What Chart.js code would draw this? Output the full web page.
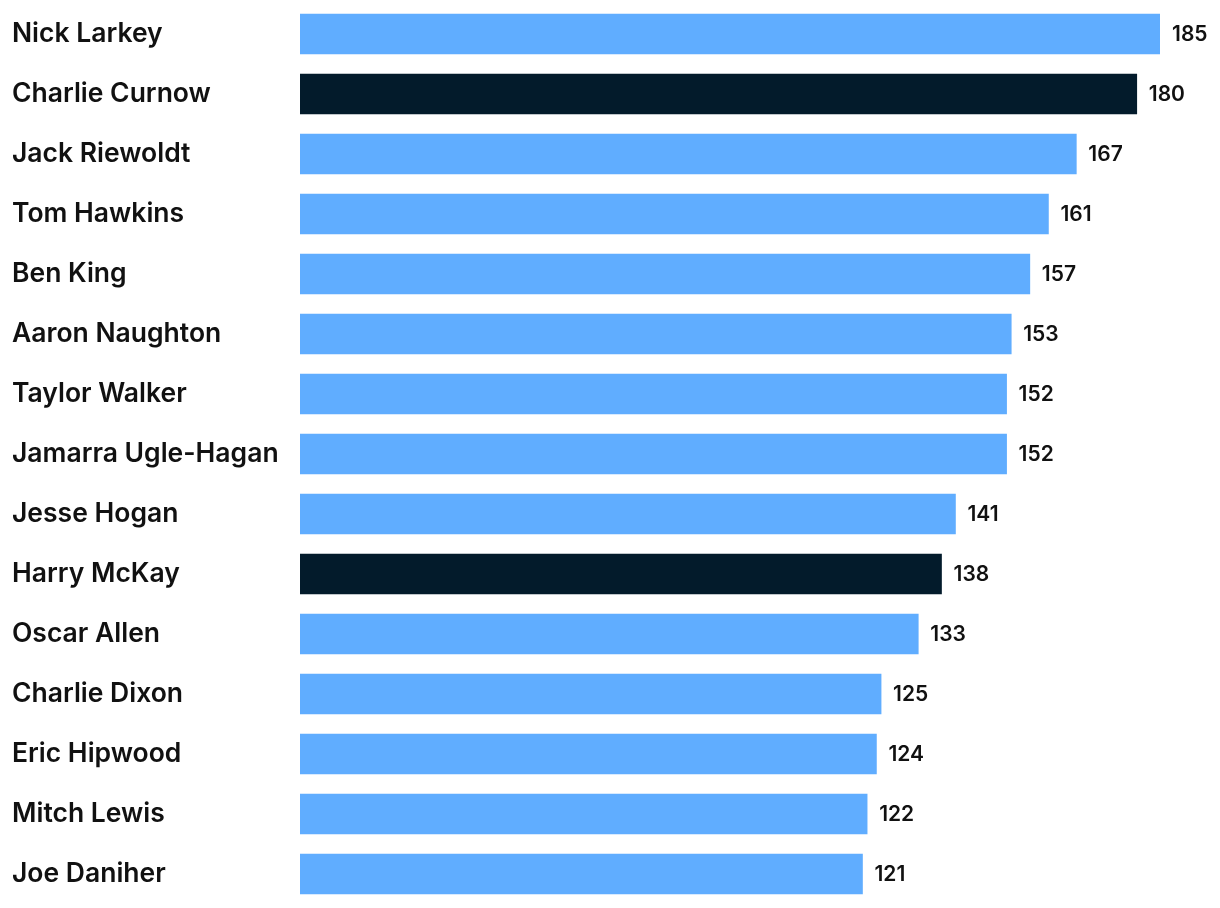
<!DOCTYPE html>
<html>
<head>
<meta charset="utf-8">
<script src="https://cdn.jsdelivr.net/npm/chart.js@4"></script>
<style>
  html, body { margin: 0; padding: 0; background: #fff; }
  #wrap { width: 1220px; height: 908px; position: relative; }
</style>
</head>
<body>
<div id="wrap"><canvas id="grafico"></canvas></div>
<script>
const jogadores = ['Nick Larkey', 'Charlie Curnow', 'Jack Riewoldt', 'Tom Hawkins', 'Ben King',
  'Aaron Naughton', 'Taylor Walker', 'Jamarra Ugle-Hagan', 'Jesse Hogan', 'Harry McKay',
  'Oscar Allen', 'Charlie Dixon', 'Eric Hipwood', 'Mitch Lewis', 'Joe Daniher'];
const valores = [185, 180, 167, 161, 157, 153, 152, 152, 141, 138, 133, 125, 124, 122, 121];
const destaque = ['Charlie Curnow', 'Harry McKay'];

const azul = '#60adff';
const escuro = '#031b2b';

// escreve o valor no fim de cada barra
const rotulosValor = {
  id: 'rotulosValor',
  afterDatasetsDraw(chart) {
    const ctx = chart.ctx;
    const meta = chart.getDatasetMeta(0);
    ctx.save();
    ctx.font = '600 21px Inter';
    ctx.fillStyle = '#111';
    ctx.textAlign = 'left';
    ctx.textBaseline = 'middle';
    meta.data.forEach((bar, i) => {
      ctx.fillText(String(valores[i]), bar.x + 12, bar.y + 1);
    });
    ctx.restore();
  }
};

new Chart(document.getElementById('grafico'), {
  type: 'bar',
  data: {
    labels: jogadores,
    datasets: [{
      data: valores,
      backgroundColor: jogadores.map(n => destaque.includes(n) ? escuro : azul),
      barThickness: 40,
      borderWidth: 0
    }]
  },
  options: {
    indexAxis: 'y',
    responsive: true,
    maintainAspectRatio: false,
    animation: false,
    layout: { padding: { left: 12, right: 60, top: 4, bottom: 4 } },
    plugins: { legend: { display: false }, tooltip: { enabled: false } },
    scales: {
      x: {
        min: 0,
        max: 185,
        display: false
      },
      y: {
        grid: { display: false },
        border: { display: false },
        afterFit(scale) {
          scale.width = 288;
          scale.paddingTop = 0;
          scale.paddingBottom = 0;
        },
        ticks: {
          crossAlign: 'far',
          color: '#111',
          font: { family: 'Inter', size: 26.5, weight: '600' }
        }
      }
    }
  },
  plugins: [rotulosValor]
});
</script>
</body>
</html>
